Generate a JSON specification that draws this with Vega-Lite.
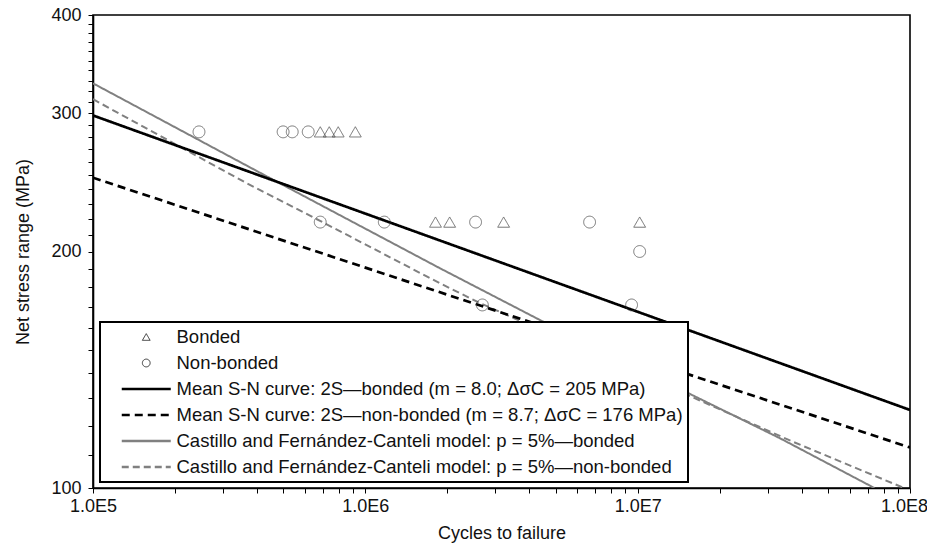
{
  "$schema": "https://vega.github.io/schema/vega-lite/v6.json",
  "width": 817,
  "height": 473,
  "autosize": "none",
  "padding": {"left": 93, "top": 15, "right": 17, "bottom": 58},
  "background": "white",
  "datasets": {
    "points": [
      {"series": "Bonded", "N": 683000, "S": 284},
      {"series": "Bonded", "N": 737000, "S": 284},
      {"series": "Bonded", "N": 795000, "S": 284},
      {"series": "Bonded", "N": 919000, "S": 284},
      {"series": "Bonded", "N": 1810000, "S": 218},
      {"series": "Bonded", "N": 2040000, "S": 218},
      {"series": "Bonded", "N": 3220000, "S": 218},
      {"series": "Bonded", "N": 10170000, "S": 218},
      {"series": "Non-bonded", "N": 245000, "S": 284},
      {"series": "Non-bonded", "N": 499000, "S": 284},
      {"series": "Non-bonded", "N": 539000, "S": 284},
      {"series": "Non-bonded", "N": 617000, "S": 284},
      {"series": "Non-bonded", "N": 683000, "S": 218},
      {"series": "Non-bonded", "N": 1174000, "S": 218},
      {"series": "Non-bonded", "N": 2540000, "S": 218},
      {"series": "Non-bonded", "N": 6660000, "S": 218},
      {"series": "Non-bonded", "N": 10170000, "S": 200},
      {"series": "Non-bonded", "N": 2690000, "S": 171},
      {"series": "Non-bonded", "N": 9500000, "S": 171}
    ],
    "castillo": [
      {"series": "Castillo and Fernández-Canteli model: p = 5%—bonded", "N": 100000, "S": 327.4},
      {"series": "Castillo and Fernández-Canteli model: p = 5%—bonded", "N": 473000, "S": 245.4},
      {"series": "Castillo and Fernández-Canteli model: p = 5%—bonded", "N": 1880000, "S": 190.4},
      {"series": "Castillo and Fernández-Canteli model: p = 5%—bonded", "N": 4500000, "S": 162.8},
      {"series": "Castillo and Fernández-Canteli model: p = 5%—bonded", "N": 33300000, "S": 115.7},
      {"series": "Castillo and Fernández-Canteli model: p = 5%—bonded", "N": 74000000, "S": 100},
      {"series": "Castillo and Fernández-Canteli model: p = 5%—non-bonded", "N": 100000, "S": 312.5},
      {"series": "Castillo and Fernández-Canteli model: p = 5%—non-bonded", "N": 367000, "S": 244.3},
      {"series": "Castillo and Fernández-Canteli model: p = 5%—non-bonded", "N": 682000, "S": 218.8},
      {"series": "Castillo and Fernández-Canteli model: p = 5%—non-bonded", "N": 1880000, "S": 182.2},
      {"series": "Castillo and Fernández-Canteli model: p = 5%—non-bonded", "N": 2640000, "S": 171.9},
      {"series": "Castillo and Fernández-Canteli model: p = 5%—non-bonded", "N": 37200000, "S": 114.5},
      {"series": "Castillo and Fernández-Canteli model: p = 5%—non-bonded", "N": 95000000, "S": 100}
    ],
    "mean": [
      {"series": "Mean S-N curve: 2S—bonded (m = 8.0; ΔσC = 205 MPa)", "N": 100000, "S": 298},
      {"series": "Mean S-N curve: 2S—bonded (m = 8.0; ΔσC = 205 MPa)", "N": 100000000, "S": 125.7},
      {"series": "Mean S-N curve: 2S—non-bonded (m = 8.7; ΔσC = 176 MPa)", "N": 100000, "S": 248.3},
      {"series": "Mean S-N curve: 2S—non-bonded (m = 8.7; ΔσC = 176 MPa)", "N": 100000000, "S": 112.6}
    ]
  },
  "encoding": {
    "x": {
      "field": "N", "type": "quantitative",
      "scale": {"type": "log", "domain": [100000, 100000000], "nice": false},
      "axis": {
        "title": "Cycles to failure",
        "values": [100000, 200000, 300000, 400000, 500000, 600000, 700000, 800000, 900000, 1000000, 2000000, 3000000, 4000000, 5000000, 6000000, 7000000, 8000000, 9000000, 10000000, 20000000, 30000000, 40000000, 50000000, 60000000, 70000000, 80000000, 90000000, 100000000],
        "labelExpr": "datum.value == 100000 ? '1.0E5' : datum.value == 1000000 ? '1.0E6' : datum.value == 10000000 ? '1.0E7' : datum.value == 100000000 ? '1.0E8' : ''",
        "labelOffset": {"condition": {"test": "datum.value == 100000000", "value": -6}, "value": 0},
        "tickSize": 5,
        "labelPadding": 4,
        "titlePadding": 9,
        "labelFlush": false,
        "labelOverlap": false
      }
    },
    "y": {
      "field": "S", "type": "quantitative",
      "scale": {"type": "log", "domain": [100, 400], "nice": false},
      "axis": {
        "title": "Net stress range (MPa)",
        "values": [100, 110, 120, 130, 140, 150, 160, 170, 180, 190, 200, 210, 220, 230, 240, 250, 260, 270, 280, 290, 300, 310, 320, 330, 340, 350, 360, 370, 380, 390, 400],
        "labelExpr": "datum.value == 100 || datum.value == 200 || datum.value == 300 || datum.value == 400 ? datum.label : ''",
        "tickSize": 5,
        "labelPadding": 7,
        "titlePadding": 18,
        "labelOverlap": false
      }
    },
    "color": {
      "field": "series", "type": "nominal",
      "scale": {
        "domain": ["Bonded", "Non-bonded", "Mean S-N curve: 2S—bonded (m = 8.0; ΔσC = 205 MPa)", "Mean S-N curve: 2S—non-bonded (m = 8.7; ΔσC = 176 MPa)", "Castillo and Fernández-Canteli model: p = 5%—bonded", "Castillo and Fernández-Canteli model: p = 5%—non-bonded"],
        "range": ["#333333", "#333333", "#000000", "#000000", "#808080", "#808080"]
      },
      "legend": {
        "title": null,
        "orient": "none",
        "legendX": 7,
        "legendY": 307,
        "direction": "vertical",
        "columns": 1,
        "symbolType": "stroke",
        "symbolSize": 1600,
        "symbolStrokeWidth": 2.5,
        "symbolOffset": 32,
        "clipHeight": 20,
        "rowPadding": 6,
        "padding": 5,
        "labelOffset": 21,
        "labelLimit": 2000,
        "encode": {
          "symbols": {
            "update": {
              "shape": {"signal": "datum.value == 'Bonded' ? 'triangle-up' : (datum.value == 'Non-bonded' ? 'circle' : 'stroke')"},
              "size": {"signal": "datum.value == 'Bonded' || datum.value == 'Non-bonded' ? 60 : 2401"},
              "strokeWidth": {"signal": "datum.value == 'Bonded' || datum.value == 'Non-bonded' ? 1 : 2.5"}
            }
          }
        }
      }
    },
    "strokeDash": {
      "field": "series", "type": "nominal",
      "scale": {
        "domain": ["Bonded", "Non-bonded", "Mean S-N curve: 2S—bonded (m = 8.0; ΔσC = 205 MPa)", "Mean S-N curve: 2S—non-bonded (m = 8.7; ΔσC = 176 MPa)", "Castillo and Fernández-Canteli model: p = 5%—bonded", "Castillo and Fernández-Canteli model: p = 5%—non-bonded"],
        "range": [[1, 0], [1, 0], [1, 0], [8, 5], [1, 0], [7, 4]]
      },
      "legend": null
    }
  },
  "layer": [
    {
      "data": {"name": "castillo"},
      "mark": {"type": "line", "clip": true, "strokeWidth": 2}
    },
    {
      "data": {"name": "mean"},
      "mark": {"type": "line", "clip": true, "strokeWidth": 2.7}
    },
    {
      "data": {"name": "points"},
      "mark": {"type": "point", "filled": false, "strokeWidth": 1, "size": 140, "clip": true},
      "encoding": {
        "shape": {
          "field": "series", "type": "nominal",
          "scale": {"domain": ["Bonded", "Non-bonded"], "range": ["triangle-up", "circle"]},
          "legend": null
        },
        "strokeDash": {"value": [1, 0]}
      }
    }
  ],
  "config": {
    "font": "Liberation Sans",
    "view": {"stroke": "black", "strokeWidth": 1.6},
    "axis": {
      "grid": false,
      "domainColor": "black",
      "domainWidth": 1.6,
      "tickColor": "black",
      "tickWidth": 1,
      "labelFont": "Liberation Sans",
      "labelFontSize": 18,
      "labelColor": "#111111",
      "titleFont": "Liberation Sans",
      "titleFontSize": 18,
      "titleFontWeight": "normal",
      "titleColor": "#111111"
    },
    "legend": {
      "strokeColor": "black",
      "strokeWidth": 2,
      "fillColor": "white",
      "labelFont": "Liberation Sans",
      "labelFontSize": 18.5,
      "labelColor": "#111111"
    }
  }
}
